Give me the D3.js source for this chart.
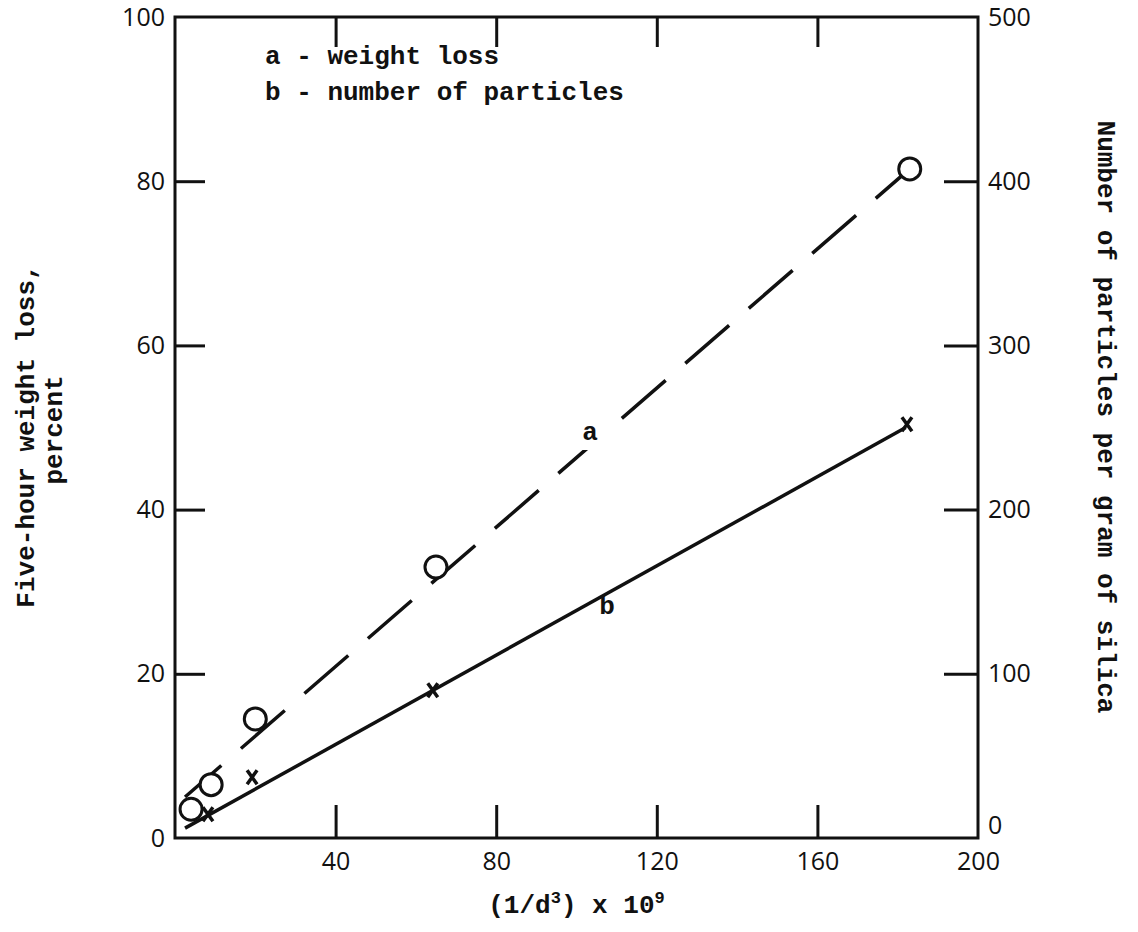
<!DOCTYPE html>
<html>
<head>
<meta charset="utf-8">
<script src="https://cdn.jsdelivr.net/npm/d3@7"></script>
<style>
  body { margin: 0; background: #fff; }
  .tick text { font-family: 'Open Sans', sans-serif; font-size: 25px; fill: #111; }
  .mono { font-family: 'Liberation Mono', 'DejaVu Sans Mono', monospace; font-size: 26px; font-weight: bold; fill: #111; }
</style>
</head>
<body>
<div id="chart"></div>
<script>
// weight loss (left axis, percent) -- open circles
const xA = [4, 9, 20, 65, 183]
const yA = [3.5, 6.5, 14.5, 33, 81.5]
// number of particles (right axis) -- x marks
const xB = [8.2, 19.2, 64.2, 182.3]
const yB = [14.5, 37, 90, 252]
// fitted lines
const lineAx = [2.5, 183]
const lineAy = [5, 81.5]
const lineBx = [2.5, 182]
const lineBy = [6, 250]

const xTicks = [40, 80, 120, 160, 200]
const yTicks = [0, 20, 40, 60, 80, 100]
const y2Ticks = [0, 100, 200, 300, 400, 500]

const width = 1138
const height = 932
const margin = { top: 17, left: 175, right: 160, bottom: 94 }

const svg = d3.select('#chart')
  .append('svg')
  .attr('width', width)
  .attr('height', height)

const x = d3.scaleLinear().domain([0, 200]).range([margin.left, width - margin.right])
const y = d3.scaleLinear().domain([0, 100]).range([height - margin.bottom, margin.top])
const y2 = d3.scaleLinear().domain([0, 500]).range([height - margin.bottom, margin.top])

const axisStyle = g => {
  g.select('.domain').remove()
  g.selectAll('.tick line').attr('stroke', '#111').attr('stroke-width', 3)
}

// left axis
svg.append('g')
  .attr('transform', `translate(${margin.left},0)`)
  .call(d3.axisLeft(y).tickValues(yTicks).tickSize(-30).tickPadding(10))
  .call(axisStyle)
  .call(g => g.selectAll('.tick').filter(d => d === 0 || d === 100).select('line').remove())

// right axis
svg.append('g')
  .attr('transform', `translate(${width - margin.right},0)`)
  .call(d3.axisRight(y2).tickValues(y2Ticks).tickSize(-34).tickPadding(10))
  .call(axisStyle)
  .call(g => g.selectAll('.tick').filter(d => d === 0 || d === 500).select('line').remove())
  .call(g => g.selectAll('.tick').filter(d => d === 0).select('text').attr('dy', '-0.2em'))

// bottom axis
svg.append('g')
  .attr('transform', `translate(0,${height - margin.bottom})`)
  .call(d3.axisBottom(x).tickValues(xTicks).tickSize(-33).tickPadding(14))
  .call(axisStyle)
  .call(g => g.selectAll('.tick').filter(d => d === 200).select('line').remove())

// top axis (ticks only)
svg.append('g')
  .attr('transform', `translate(0,${margin.top})`)
  .call(d3.axisTop(x).tickValues(xTicks.slice(0, 4)).tickSize(-30).tickFormat(''))
  .call(axisStyle)

// frame
svg.append('rect')
  .attr('x', x(0))
  .attr('y', y(100))
  .attr('width', x(200) - x(0))
  .attr('height', y(0) - y(100))
  .attr('fill', 'none')
  .attr('stroke', '#111')
  .attr('stroke-width', 3)

// line a (dashed)
svg.append('path')
  .datum(d3.zip(lineAx, lineAy))
  .attr('d', d3.line().x(d => x(d[0])).y(d => y(d[1])))
  .attr('fill', 'none')
  .attr('stroke', '#111')
  .attr('stroke-width', 3.5)
  .attr('stroke-dasharray', '58,26')
  .attr('stroke-dashoffset', 10)

// line b (solid)
svg.append('path')
  .datum(d3.zip(lineBx, lineBy))
  .attr('d', d3.line().x(d => x(d[0])).y(d => y2(d[1])))
  .attr('fill', 'none')
  .attr('stroke', '#111')
  .attr('stroke-width', 3.5)

// circles
svg.selectAll('.pt-a')
  .data(d3.zip(xA, yA))
  .enter()
  .append('circle')
  .attr('cx', d => x(d[0]))
  .attr('cy', d => y(d[1]))
  .attr('r', 11)
  .attr('fill', '#fff')
  .attr('stroke', '#111')
  .attr('stroke-width', 3)

// x marks
svg.selectAll('.pt-b')
  .data(d3.zip(xB, yB))
  .enter()
  .append('path')
  .attr('transform', d => `translate(${x(d[0])},${y2(d[1])})`)
  .attr('d', 'M-5,-7 L5,7 M5,-7 L-5,7')
  .attr('stroke', '#111')
  .attr('stroke-width', 3.5)
  .attr('fill', 'none')

// line labels (white box cuts the dashed line like the original gap)
svg.append('rect').attr('x', 576).attr('y', 410).attr('width', 34).attr('height', 40).attr('fill', '#fff')
svg.append('text').attr('class', 'mono').attr('x', 590).attr('y', 440).attr('text-anchor', 'middle').text('a')
svg.append('text').attr('class', 'mono').attr('x', 607).attr('y', 614).attr('text-anchor', 'middle').text('b')

// legend
svg.append('text').attr('class', 'mono').attr('x', 265).attr('y', 64).text('a - weight loss')
svg.append('text').attr('class', 'mono').attr('x', 265).attr('y', 100).text('b - number of particles')

// x axis title
const xt = svg.append('text')
  .attr('class', 'mono')
  .attr('x', (x(0) + x(200)) / 2)
  .attr('y', 913)
  .attr('text-anchor', 'middle')
xt.append('tspan').text('(1/d')
xt.append('tspan').attr('font-size', 17).attr('dy', -10).text('3')
xt.append('tspan').attr('dy', 10).text(') x 10')
xt.append('tspan').attr('font-size', 17).attr('dy', -10).text('9')

// left title
svg.append('text')
  .attr('class', 'mono')
  .attr('transform', 'translate(34,436) rotate(-90)')
  .attr('text-anchor', 'middle')
  .text('Five-hour weight loss,')
svg.append('text')
  .attr('class', 'mono')
  .attr('transform', 'translate(62,430) rotate(-90)')
  .attr('text-anchor', 'middle')
  .text('percent')

// right title
svg.append('text')
  .attr('class', 'mono')
  .attr('transform', 'translate(1098,417) rotate(90)')
  .attr('text-anchor', 'middle')
  .text('Number of particles per gram of silica')
</script>
</body>
</html>
